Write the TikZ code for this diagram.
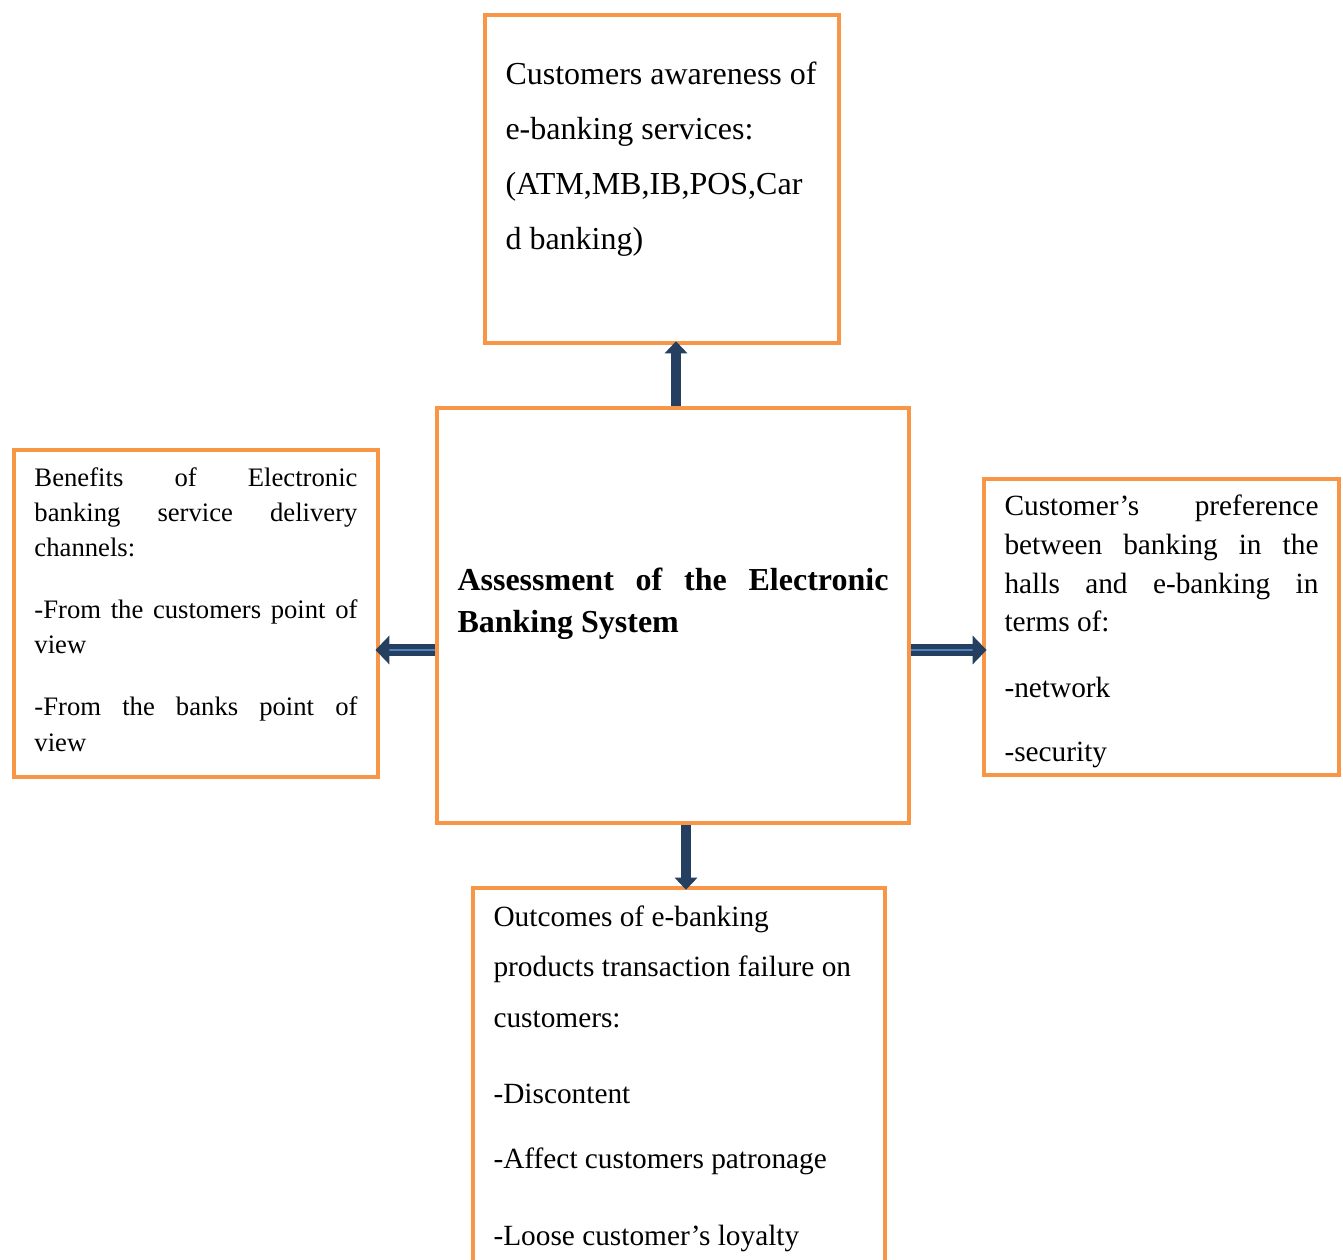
\documentclass[tikz,border=0pt]{standalone}
\usepackage{fontspec}
\setmainfont{Liberation Serif}
\usetikzlibrary{arrows.meta,calc}
\definecolor{boxorange}{HTML}{F79646}
\definecolor{arrownavy}{RGB}{36,63,96}
\definecolor{arrowlight}{RGB}{84,130,190}
\newdimen\px \px=0.375pt
\newcommand{\jline}[1]{\makebox[\linewidth][s]{#1}}
\begin{document}
\begin{tikzpicture}[x=0.375pt, y=-0.375pt,
    box/.style={draw=boxorange, line width=1.5pt, inner xsep=7.6875pt, inner ysep=0pt, fill=white},
    varrow/.style={draw=arrownavy, line width=3.75pt, shorten >=-1.4pt, -{Triangle[width=8.25pt,length=4.5pt]}},
    harrow/.style={draw=arrownavy, line width=1.6pt, double=arrowlight, double distance=1.1pt, shorten >=-1.7pt, -{Triangle[width=10.5pt,length=5.2pt]}}]
    \clip (0,0) rectangle (1343,1260);
    \fill[white] (0,0) rectangle (1343,1260);
    % boxes
    \node[box] (top) at (662,179) {\begin{minipage}[c][123pt][t]{117.375pt}
        \fontsize{12pt}{20.625pt}\selectfont\raggedright
        \rule{0pt}{70\px}\mbox{Customers awareness of}\\
        e-banking services:\\
        (ATM,MB,IB,POS,Car\\
        d banking)
    \end{minipage}};
    \node[box] (ctr) at (673,615.5) {\begin{minipage}[c][155.625pt][t]{161.625pt}
        \fontsize{12pt}{16.125pt}\selectfont\bfseries
        \rule{0pt}{182\px}\jline{Assessment of the Electronic}\\
        Banking System
    \end{minipage}};
    \node[box] (lft) at (196,613.5) {\begin{minipage}[c][122.625pt][t]{121.125pt}
        \fontsize{10pt}{13.125pt}\selectfont
        \rule{0pt}{37\px}\jline{Benefits of Electronic}\\
        \jline{banking service delivery}\\
        channels:\\[27\px]
        \jline{-From the customers point of}\\
        view\\[27\px]
        \jline{-From the banks point of}\\
        view
    \end{minipage}};
    \node[box] (rgt) at (1161.5,627) {\begin{minipage}[c][111pt][t]{117.75pt}
        \fontsize{11pt}{14.5pt}\selectfont
        \rule{0pt}{37\px}\jline{Customer's preference}\\
        \jline{between banking in the}\\
        \jline{halls and e-banking in}\\
        terms of:\\[27\px]
        -network\\[25\px]
        -security
    \end{minipage}};
    \node[box] (bot) at (679,1081.5) {\begin{minipage}[c][145.125pt][t]{139.125pt}
        \fontsize{11pt}{18.94pt}\selectfont\raggedright
        \rule{0pt}{38\px}Outcomes of e-banking\\
        products transaction failure on\\
        customers:\\[26\px]
        -Discontent\\[14\px]
        -Affect customers patronage\\[27\px]
        -Loose customer's loyalty
    \end{minipage}};
    % arrows
    \coordinate (vup) at (676,0);
    \coordinate (vdn) at (686,0);
    \coordinate (hmid) at (0,650);
    \draw[varrow] (ctr.north -| vup) -- (top.south -| vup);
    \draw[varrow] (ctr.south -| vdn) -- (bot.north -| vdn);
    \draw[harrow] (ctr.west |- hmid) -- (lft.east |- hmid);
    \draw[harrow] (ctr.east |- hmid) -- (rgt.west |- hmid);
\end{tikzpicture}
\end{document}
